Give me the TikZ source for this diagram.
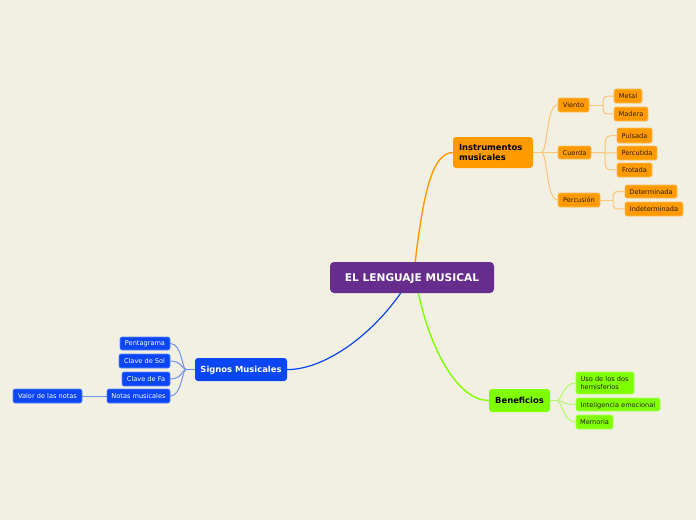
\documentclass[tikz,border=0pt]{standalone}
\usepackage{fontspec}
\setmainfont{DejaVu Sans}
\usetikzlibrary{backgrounds,calc}
\definecolor{bgc}{HTML}{F2EFE3}
\definecolor{purp}{HTML}{662D8C}
\definecolor{orng}{HTML}{FF9A00}
\definecolor{blu}{HTML}{0A46F5}
\definecolor{grn}{HTML}{80FF00}
\definecolor{darktxt}{HTML}{2A1E00}
\tikzset{
  base/.style={rectangle, inner sep=0pt, text depth=0pt, font=\fontsize{6.6}{8}\selectfont},
  small/.style={base, rounded corners=2pt, minimum height=14pt},
  osmall/.style={small, fill=orng, draw=orng!65!white, line width=0.6pt, text=darktxt},
  bsmall/.style={small, fill=blu, draw=blu!65!white, line width=0.6pt, text=white},
  gsmall/.style={small, fill=grn, draw=grn!65!white, line width=0.6pt, text=darktxt},
  mainbox/.style={rectangle, rounded corners=3pt, inner sep=0pt, text depth=0pt, font=\fontsize{8.4}{10}\selectfont\bfseries},
  omain/.style={orng, line width=1.4pt},
  bmain/.style={blu, line width=1.2pt},
  gmain/.style={grn, line width=1.4pt},
  osub/.style={draw=orng!50!bgc, line width=1pt},
  bsub/.style={draw=blu!55!bgc, line width=1pt},
  gsub/.style={draw=grn!55!bgc, line width=1pt},
}
\begin{document}
\begin{tikzpicture}[x=1pt,y=-1pt]
\useasboundingbox (0,0) rectangle (696,520);

% central
\node[rectangle, rounded corners=4pt, fill=purp, text=white, minimum width=164pt, minimum height=31pt, inner sep=0pt, text depth=0pt, font=\fontsize{10.6}{12}\selectfont\bfseries] (central) at (412,277.5) {EL LENGUAJE MUSICAL};

% Instrumentos
\node[mainbox, text depth=, fill=orng, text=black, minimum width=80pt, minimum height=31pt, text width=68pt, inner xsep=6pt, align=left] (instr) at (493,152.5) {Instrumentos\\musicales};
\node[osmall, minimum width=31pt] (viento) at (573.5,105) {Viento};
\node[osmall, minimum width=28pt] (metal) at (628,96) {Metal};
\node[osmall, minimum width=34pt] (madera) at (631,114) {Madera};
\node[osmall, minimum width=33pt, minimum height=13pt] (cuerda) at (574.5,152.5) {Cuerda};
\node[osmall, minimum width=35pt, minimum height=15pt] (pulsada) at (634.5,135.5) {Pulsada};
\node[osmall, minimum width=40pt] (percutida) at (637,153) {Percutida};
\node[osmall, minimum width=35pt] (frotada) at (634.5,170) {Frotada};
\node[osmall, minimum width=42pt] (percusion) at (579,200) {Percusión};
\node[osmall, minimum width=52pt, minimum height=13pt] (determ) at (651,191.5) {Determinada};
\node[osmall, minimum width=58pt] (indeterm) at (654,209) {Indeterminada};

% Signos
\node[mainbox, fill=blu, text=white, minimum width=92pt, minimum height=23pt] (signos) at (241,369.5) {Signos Musicales};
\node[bsmall, minimum width=50pt, minimum height=13pt] (penta) at (145,343.5) {Pentagrama};
\node[bsmall, minimum width=51pt] (sol) at (144.5,361) {Clave de Sol};
\node[bsmall, minimum width=48pt] (fa) at (146,379) {Clave de Fa};
\node[bsmall, minimum width=63pt] (notas) at (138.5,396) {Notas musicales};
\node[bsmall, minimum width=69pt] (valor) at (47.5,396) {Valor de las notas};

% Beneficios
\node[mainbox, fill=grn, text=black, minimum width=61pt, minimum height=23pt] (benef) at (519.5,400.5) {Beneficios};
\node[gsmall, text depth=, minimum width=58pt, minimum height=22pt, text width=49pt, inner xsep=4.5pt, align=left] (uso) at (605,383) {Uso de los dos\\hemisferios};
\node[gsmall, minimum width=84pt, minimum height=13pt] (intel) at (618,404.5) {Inteligencia emocional};
\node[gsmall, minimum width=37pt] (memoria) at (594.5,422) {Memoria};

\begin{scope}[on background layer]
\fill[bgc] (0,0) rectangle (696,520);
% main branches
\coordinate (co) at ($(central.north)+(3,2)$);
\coordinate (cb) at ($(central.south)+(-10,-2)$);
\coordinate (cg) at ($(central.south)+(6,-2)$);
\draw[omain] (co) .. controls (424,185) and (434,153) .. (instr.west);
\draw[bmain] (cb) .. controls (370,338) and (322,370) .. (signos.east);
\draw[gmain] (cg) .. controls (430,350) and (458,400.5) .. (benef.west);

% instrumentos sub
\coordinate (fi) at (541,152.5);
\draw[osub] (instr.east) -- (fi) -- (cuerda.west);
\draw[osub] (fi) .. controls (548,152.5) and (546,105) .. (viento.west);
\draw[osub] (fi) .. controls (548,152.5) and (546,200) .. (percusion.west);
\coordinate (fv) at (603,105);
\draw[osub] (viento.east) -- (fv);
\draw[osub] (fv) .. controls (fv |- metal.west) .. (metal.west);
\draw[osub] (fv) .. controls (fv |- madera.west) .. (madera.west);
\coordinate (fc) at (605,153);
\draw[osub] (cuerda.east) -- (percutida.west);
\draw[osub] (fc) .. controls (fc |- pulsada.west) .. (pulsada.west);
\draw[osub] (fc) .. controls (fc |- frotada.west) .. (frotada.west);
\coordinate (fp) at (613,200);
\draw[osub] (percusion.east) -- (fp);
\draw[osub] (fp) .. controls (fp |- determ.west) .. (determ.west);
\draw[osub] (fp) .. controls (fp |- indeterm.west) .. (indeterm.west);

% signos sub
\coordinate (fs) at (186,369.5);
\draw[bsub] (signos.west) -- (fs);
\draw[bsub] (fs) .. controls (182,369.5) and (182,343.5) .. (penta.east);
\draw[bsub] (fs) .. controls (182,369.5) and (182,361) .. (sol.east);
\draw[bsub] (fs) .. controls (182,369.5) and (182,379) .. (fa.east);
\draw[bsub] (fs) .. controls (182,369.5) and (182,396) .. (notas.east);
\draw[bsub] (notas.west) -- (valor.east);

% beneficios sub
\coordinate (fb) at (557,400.5);
\draw[gsub] (benef.east) -- (fb);
\draw[gsub] (fb) .. controls (562,400.5) and (563,383) .. (uso.west);
\draw[gsub] (fb) .. controls (562,400.5) and (563,404.5) .. (intel.west);
\draw[gsub] (fb) .. controls (562,400.5) and (563,422) .. (memoria.west);
\end{scope}
\end{tikzpicture}
\end{document}
